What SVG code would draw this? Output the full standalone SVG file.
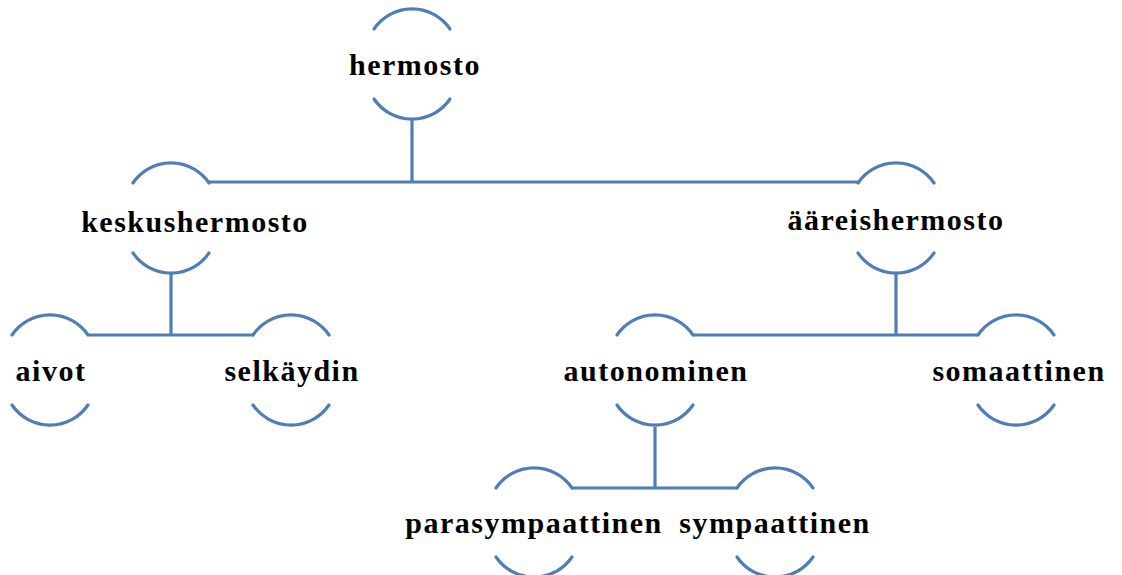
<svg xmlns="http://www.w3.org/2000/svg" width="1122" height="575" viewBox="0 0 1122 575">
<style>
.arc{fill:none;stroke:#4F7DB5;stroke-width:3.2;stroke-linecap:round}
.ln{fill:none;stroke:#4F7DB5;stroke-width:3.2}
text{font-family:"Liberation Serif","Times New Roman",serif;font-weight:bold;font-size:30px;letter-spacing:1.5px;text-anchor:middle;fill:#000}
</style>
<rect width="1122" height="575" fill="#fff"/>
<g id="connectors">
<path class="ln" d="M412 118 V182 M208 182 H858"/>
<path class="ln" d="M171 273 V335 M88 335 H253"/>
<path class="ln" d="M896 273 V335 M693 335 H978"/>
<path class="ln" d="M655 427 V488 M572 488 H737"/>
</g>
<g id="n-hermosto">
<path class="arc" d="M374 29 A46 46 0 0 1 450 29 M374 99 A46 46 0 0 0 450 99"/>
<text x="415" y="75">hermosto</text>
</g>
<g id="n-keskushermosto">
<path class="arc" d="M133 183 A46 46 0 0 1 209 183 M133 253 A46 46 0 0 0 209 253"/>
<text x="195" y="232">keskushermosto</text>
</g>
<g id="n-aareishermosto">
<path class="arc" d="M858 183 A46 46 0 0 1 934 183 M858 253 A46 46 0 0 0 934 253"/>
<text x="896" y="230">ääreishermosto</text>
</g>
<g id="n-aivot">
<path class="arc" d="M12 335 A46 46 0 0 1 88 335 M12 405 A46 46 0 0 0 88 405"/>
<text x="51" y="381">aivot</text>
</g>
<g id="n-selkaydin">
<path class="arc" d="M253 335 A46 46 0 0 1 329 335 M253 405 A46 46 0 0 0 329 405"/>
<text x="292" y="381">selkäydin</text>
</g>
<g id="n-autonominen">
<path class="arc" d="M617 335 A46 46 0 0 1 693 335 M617 405 A46 46 0 0 0 693 405"/>
<text x="656" y="381">autonominen</text>
</g>
<g id="n-somaattinen">
<path class="arc" d="M978 335 A46 46 0 0 1 1054 335 M978 405 A46 46 0 0 0 1054 405"/>
<text x="1019" y="381">somaattinen</text>
</g>
<g id="n-parasympaattinen">
<path class="arc" d="M496 488 A46 46 0 0 1 572 488 M496 557 A46 46 0 0 0 572 557"/>
<text x="534" y="533">parasympaattinen</text>
</g>
<g id="n-sympaattinen">
<path class="arc" d="M737 488 A46 46 0 0 1 813 488 M737 557 A46 46 0 0 0 813 557"/>
<text x="775" y="533">sympaattinen</text>
</g>
</svg>
